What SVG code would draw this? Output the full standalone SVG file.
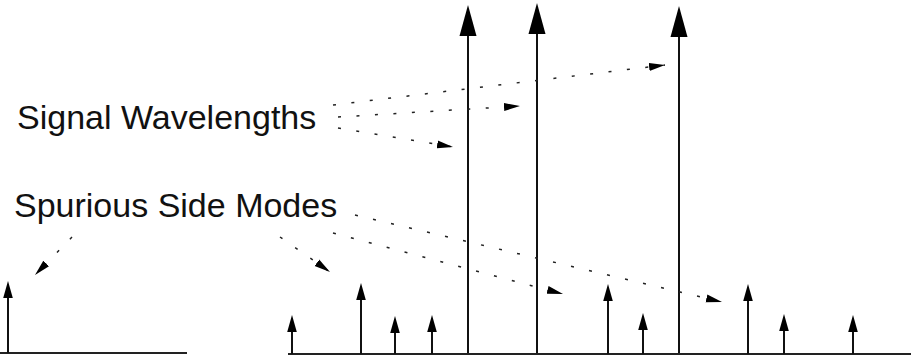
<svg xmlns="http://www.w3.org/2000/svg" width="911" height="357" viewBox="0 0 911 357">
<style>
.lbl{font-family:"Liberation Sans",Arial,sans-serif;font-size:34px;fill:#111}
.ax{stroke:#222;stroke-width:2;fill:none}
.st{stroke:#111;stroke-width:2;fill:none}
.hd{fill:#000}
.dash{stroke:#222;stroke-width:1.5;stroke-dasharray:3 15.5;fill:none}
</style>
<defs>
<marker id="dh" markerWidth="18" markerHeight="9" refX="16" refY="4.5" orient="auto" markerUnits="userSpaceOnUse">
<path d="M0,0.5 L16,4.5 L0,8.5 Z" fill="#000"/>
</marker>
</defs>
<rect width="911" height="357" fill="#fff"/>
<g id="axes">
<line class="ax" x1="0" y1="353" x2="187" y2="353"/>
<line class="ax" x1="288" y1="354" x2="911" y2="354"/>
</g>
<g id="signal-modes">
<line class="st" x1="468" y1="30" x2="468" y2="353"/>
<path class="hd" d="M468,5 L476.5,36 L459.5,36 Z"/>
<line class="st" x1="537" y1="30" x2="537" y2="353"/>
<path class="hd" d="M537,3 L545.5,34 L528.5,34 Z"/>
<line class="st" x1="679" y1="30" x2="679" y2="353"/>
<path class="hd" d="M679,6 L687.5,37 L670.5,37 Z"/>
</g>
<g id="side-modes">
<line class="st" x1="8" y1="290" x2="8" y2="353"/>
<path class="hd" d="M8,281 L12.8,298 L3.2,298 Z"/>
<line class="st" x1="292" y1="325" x2="292" y2="354"/>
<path class="hd" d="M292,315 L296.8,332 L287.2,332 Z"/>
<line class="st" x1="361" y1="292" x2="361" y2="354"/>
<path class="hd" d="M361,283 L365.8,300 L356.2,300 Z"/>
<line class="st" x1="395" y1="325" x2="395" y2="354"/>
<path class="hd" d="M395,316 L399.8,333 L390.2,333 Z"/>
<line class="st" x1="432" y1="325" x2="432" y2="354"/>
<path class="hd" d="M432,315 L436.8,332 L427.2,332 Z"/>
<line class="st" x1="608" y1="292" x2="608" y2="354"/>
<path class="hd" d="M608,284 L612.8,301 L603.2,301 Z"/>
<line class="st" x1="643" y1="322" x2="643" y2="354"/>
<path class="hd" d="M643,313 L647.8,330 L638.2,330 Z"/>
<line class="st" x1="748" y1="292" x2="748" y2="354"/>
<path class="hd" d="M748,284 L752.8,301 L743.2,301 Z"/>
<line class="st" x1="784" y1="322" x2="784" y2="354"/>
<path class="hd" d="M784,314 L788.8,331 L779.2,331 Z"/>
<line class="st" x1="853" y1="323" x2="853" y2="354"/>
<path class="hd" d="M853,315 L857.8,332 L848.2,332 Z"/>
</g>
<g id="label-signal">
<text class="lbl" x="17" y="129">Signal Wavelengths</text>
</g>
<g id="label-spurious">
<text class="lbl" x="14" y="217">Spurious Side Modes</text>
</g>
<g id="connectors">
<line class="dash" x1="333" y1="105" x2="665" y2="65" marker-end="url(#dh)"/>
<line class="dash" x1="338" y1="117" x2="520" y2="106" marker-end="url(#dh)"/>
<line class="dash" x1="338" y1="128" x2="453" y2="147" marker-end="url(#dh)"/>
<line class="dash" x1="72" y1="237" x2="35" y2="275" marker-end="url(#dh)"/>
<line class="dash" x1="280" y1="237" x2="330" y2="272" marker-end="url(#dh)"/>
<line class="dash" x1="355" y1="215" x2="722" y2="302" marker-end="url(#dh)"/>
<line class="dash" x1="333" y1="233" x2="563" y2="294" marker-end="url(#dh)"/>
</g>
</svg>
